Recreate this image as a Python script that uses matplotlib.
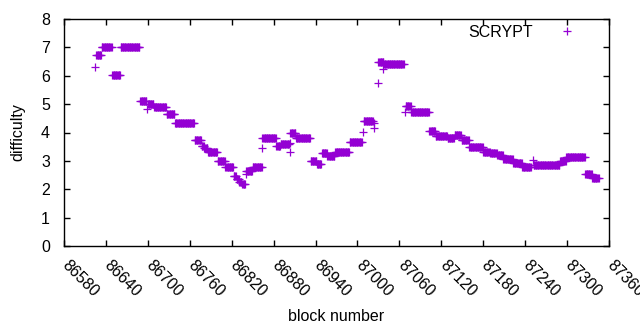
import numpy as np
import matplotlib
matplotlib.use("Agg")
import matplotlib.pyplot as plt
from matplotlib.transforms import ScaledTranslation

# Run-length description of the series: (first block, last block, difficulty)
seg_start = [86625, 86626, 86634, 86649, 86661, 86689, 86699, 86700, 86709, 86727,
             86739, 86767, 86777, 86781, 86786, 86800, 86811, 86823, 86827, 86831,
             86835, 86840, 86841, 86850, 86863, 86864, 86884, 86890, 86903, 86903,
             86904, 86912, 86933, 86942, 86949, 86957, 86968, 86979, 86989, 87008,
             87009, 87024, 87024, 87029, 87030, 87036, 87038, 87068, 87069, 87077,
             87103, 87112, 87129, 87139, 87149, 87160, 87180, 87190, 87200, 87209,
             87223, 87236, 87251, 87252, 87290, 87299, 87326, 87336]
seg_end = [86625, 86633, 86648, 86660, 86688, 86698, 86699, 86708, 86726, 86738,
           86766, 86776, 86780, 86785, 86799, 86810, 86822, 86826, 86830, 86834,
           86839, 86840, 86849, 86863, 86863, 86883, 86889, 86902, 86903, 86903,
           86911, 86932, 86941, 86948, 86956, 86967, 86978, 86988, 87006, 87008,
           87022, 87024, 87024, 87029, 87037, 87036, 87066, 87068, 87076, 87102,
           87111, 87128, 87138, 87148, 87159, 87179, 87189, 87199, 87208, 87222,
           87235, 87248, 87251, 87289, 87298, 87325, 87335, 87345]
seg_value = [6.30, 6.72, 7.03, 6.01, 7.01, 5.10, 4.83, 5.00, 4.89, 4.64,
             4.33, 3.72, 3.52, 3.44, 3.31, 2.98, 2.80, 2.48, 2.36, 2.26,
             2.17, 2.55, 2.63, 2.80, 3.44, 3.79, 3.52, 3.59, 3.32, 3.64,
             3.98, 3.79, 3.01, 2.90, 3.26, 3.17, 3.33, 3.31, 3.65, 4.02,
             4.39, 4.33, 4.16, 5.74, 6.47, 6.24, 6.40, 4.74, 4.95, 4.71,
             4.07, 3.86, 3.81, 3.91, 3.72, 3.48, 3.33, 3.28, 3.22, 3.08,
             2.92, 2.79, 3.04, 2.86, 3.00, 3.13, 2.53, 2.41]

x_ticks = list(range(86580, 87361, 60))
y_ticks = list(range(0, 9))
series_name = "SCRYPT"

blocks = []
diffs = []
for s, e, v in zip(seg_start, seg_end, seg_value):
    for b in range(s, e + 1):
        blocks.append(b)
        diffs.append(v)

plt.rcParams['font.family'] = ['Liberation Sans', 'DejaVu Sans']
plt.rcParams['font.size'] = 11.5

fig = plt.figure(figsize=(6.4, 3.3), dpi=100)
ax = fig.add_axes([64/640, 1-246/330, (609-64)/640, (246-19)/330])

ax.plot(blocks, diffs, linestyle='none', marker='+', markersize=5.2,
        markeredgewidth=0.9, color='#9400D3', label=series_name)

ax.set_xlim(86580, 87360)
ax.set_ylim(0, 8)
ax.set_xticks(x_ticks)
ax.set_yticks(y_ticks)
ax.tick_params(direction='in', length=4, width=1, top=True, right=True, colors='black')
ax.tick_params(axis='y', pad=10)
ax.tick_params(axis='x', pad=8)
offset = ScaledTranslation(6/100, 0, fig.dpi_scale_trans)
for lab in ax.get_xticklabels():
    lab.set_rotation(-45)
    lab.set_ha('left')
    lab.set_va('top')
    lab.set_rotation_mode('anchor')
    lab.set_transform(lab.get_transform() + offset)
for sp in ax.spines.values():
    sp.set_linewidth(1)

ax.set_xlabel("block number", labelpad=7)
ax.set_ylabel("difficulty", labelpad=11)

ax.legend(loc='upper right', bbox_to_anchor=(595/640, 1-25/330),
          bbox_transform=fig.transFigure, frameon=False, markerfirst=False,
          numpoints=1, handlelength=3.5, handletextpad=0.4, borderpad=0,
          borderaxespad=0)

fig.savefig("out.png", dpi=100)
